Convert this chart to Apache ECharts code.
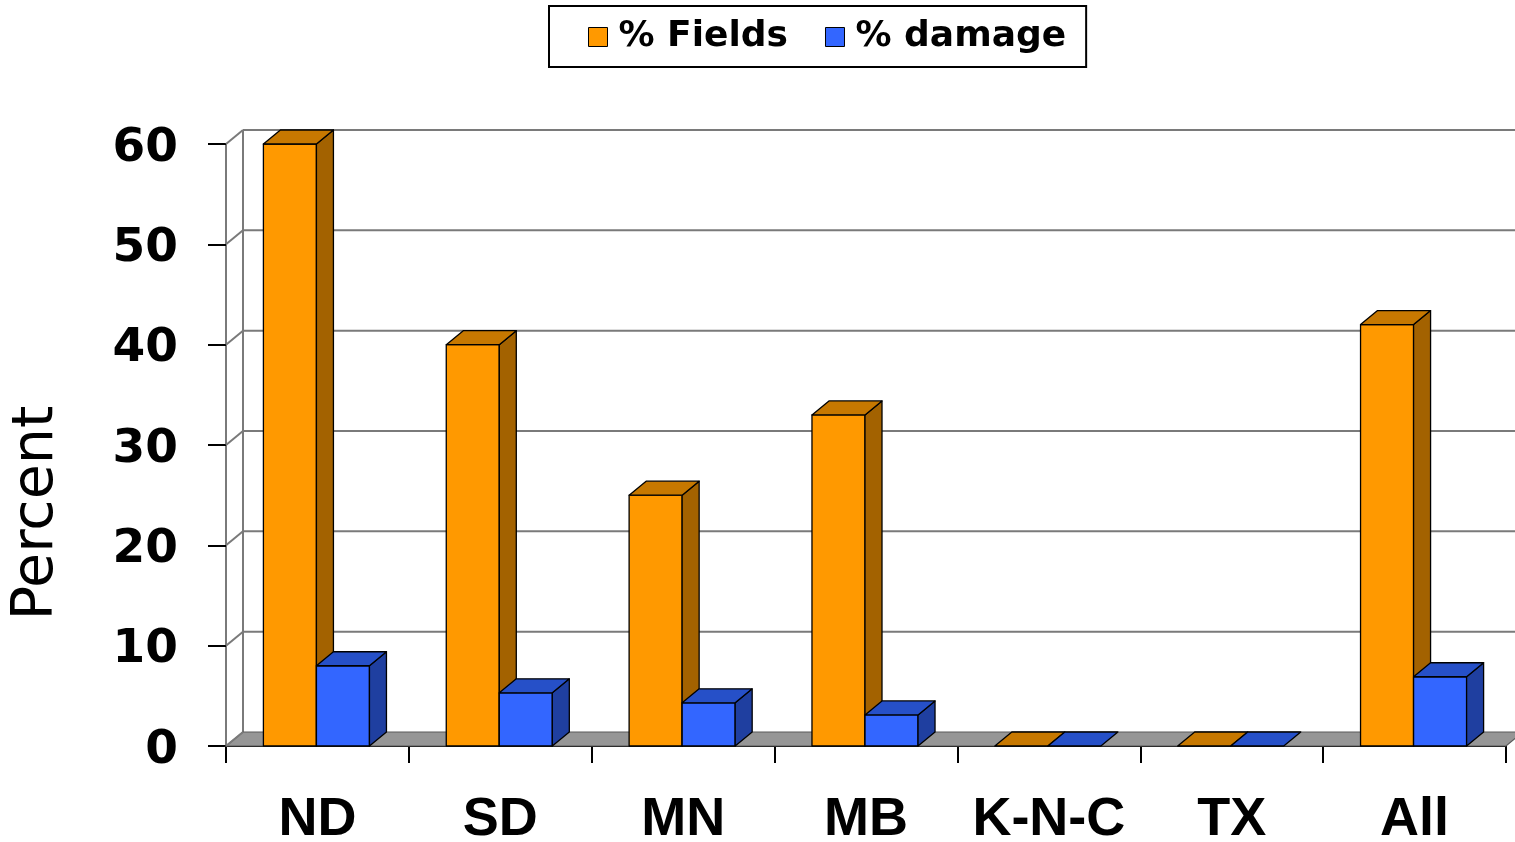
<!DOCTYPE html>
<html>
<head>
<meta charset="utf-8">
<script src="https://cdn.jsdelivr.net/npm/echarts@6/dist/echarts.min.js"></script>
<style>html,body{margin:0;padding:0;background:#fff;}#c{width:1515px;height:842px;}</style>
</head>
<body>
<div id="c"></div>
<script>
var categories = ['ND', 'SD', 'MN', 'MB', 'K-N-C', 'TX', 'All'];
var fieldsPct = [60, 40, 25, 33, 0, 0, 42];
var damagePct = [8, 5.3, 4.3, 3.1, 0, 0, 6.9];
var yTicks = [0, 10, 20, 30, 40, 50, 60];

var DX = 17, DY = -14, BAR_FRAC = 0.29;
var colors = {
  fields: {front: '#FF9900', top: '#C77800', side: '#A36200'},
  damage: {front: '#3366FF', top: '#2650C8', side: '#1F3FA0'}
};

function barRender(idx, col) {
  return function (params, api) {
    var c = api.value(0), v = api.value(1);
    var base = api.coord([c, 0]);
    var top = api.coord([c, v]);
    var bw = api.size([1, 0])[0];
    var w = bw * BAR_FRAC;
    var x0 = base[0] - w - 1 + idx * w, x1 = x0 + w;
    var yb = base[1], yt = top[1];
    var st = {stroke: '#000', lineWidth: 1.3, lineJoin: 'round'};
    var kids = [];
    if (yb - yt > 0.5) {
      kids.push({type: 'polygon', shape: {points: [[x0, yb], [x1, yb], [x1, yt], [x0, yt]]},
        style: Object.assign({fill: col.front}, st)});
      kids.push({type: 'polygon', shape: {points: [[x1, yt], [x1 + DX, yt + DY], [x1 + DX, yb + DY], [x1, yb]]},
        style: Object.assign({fill: col.side}, st)});
    }
    kids.push({type: 'polygon', shape: {points: [[x0, yt], [x1, yt], [x1 + DX, yt + DY], [x0 + DX, yt + DY]]},
      style: Object.assign({fill: col.top}, st)});
    return {type: 'group', children: kids};
  };
}

function wallRender(params, api) {
  var cs = params.coordSys;
  var v = api.value(1);
  var y = api.coord([0, v])[1];
  var xl = cs.x, xr = cs.x + cs.width;
  var kids = [];
  var gl = {stroke: '#7a7a7a', lineWidth: 2};
  if (params.dataIndex === 0) {
    var yb = y;
    kids.push({type: 'line', shape: {x1: xl + DX, y1: cs.y + DY, x2: xl + DX, y2: yb + DY}, style: gl});
    kids.push({type: 'polygon', shape: {points: [[xl, yb], [xr, yb], [xr + DX, yb + DY], [xl + DX, yb + DY]]},
      style: {fill: '#969696', stroke: '#5a5a5a', lineWidth: 1.2}});
  } else {
    kids.push({type: 'line', shape: {x1: xl + DX, y1: y + DY, x2: xr + DX, y2: y + DY}, style: gl});
  }
  kids.push({type: 'line', shape: {x1: xl, y1: y, x2: xl + DX, y2: y + DY}, style: gl});
  return {type: 'group', children: kids};
}

var chart = echarts.init(document.getElementById('c'), null, {renderer: 'canvas'});
chart.setOption({
  animation: false,
  backgroundColor: '#fff',
  grid: {left: 226, right: 9, top: 144, bottom: 96, containLabel: false, outerBoundsMode: 'none'},
  legend: {
    left: 549, top: 6,
    data: [
      {name: '% Fields', icon: 'rect', itemStyle: {color: colors.fields.front, borderColor: '#000', borderWidth: 1}},
      {name: '% damage', icon: 'rect', itemStyle: {color: colors.damage.front, borderColor: '#000', borderWidth: 1}}
    ],
    itemWidth: 19, itemHeight: 19, itemGap: 37,
    padding: [11, 20, 10, 39],
    borderColor: '#000', borderWidth: 2,
    textStyle: {fontFamily: 'DejaVu Sans', fontWeight: 'bold', fontSize: 36, color: '#000', lineHeight: 28, padding: [12, 0, 0, 6]}
  },
  graphic: [{
    type: 'text', x: 37, y: 513, rotation: Math.PI / 2,
    style: {text: 'Percent', fontFamily: 'DejaVu Sans', fontSize: 57, fill: '#000', align: 'center', verticalAlign: 'middle'}
  }],
  xAxis: {
    type: 'category', data: categories,
    axisLine: {show: true, lineStyle: {color: '#000', width: 2}},
    axisTick: {show: true, interval: 0, alignWithLabel: false, length: 17, lineStyle: {color: '#000', width: 2}},
    axisLabel: {interval: 0, fontFamily: 'Liberation Sans', fontWeight: 'bold', fontSize: 54, color: '#000', margin: 47}
  },
  yAxis: {
    type: 'value', min: 0, max: 60, interval: 10,
    axisLine: {show: true, lineStyle: {color: '#7a7a7a', width: 2}},
    axisTick: {show: true, length: 18, lineStyle: {color: '#000', width: 2}},
    axisLabel: {
      margin: 48,
      formatter: function (v) { return '{n|' + v + '}'; },
      rich: {n: {fontFamily: 'DejaVu Sans', fontWeight: 'bold', fontSize: 47, color: '#000', padding: [9, 0, 0, 0]}}
    },
    splitLine: {show: false}
  },
  series: [
    {type: 'custom', name: 'walls', silent: true, z: 1,
      data: yTicks.map(function (t) { return [0, t]; }), renderItem: wallRender},
    {type: 'custom', name: '% Fields', z: 3, itemStyle: {color: colors.fields.front},
      data: fieldsPct.map(function (v, i) { return [i, v]; }), renderItem: barRender(0, colors.fields)},
    {type: 'custom', name: '% damage', z: 4, itemStyle: {color: colors.damage.front},
      data: damagePct.map(function (v, i) { return [i, v]; }), renderItem: barRender(1, colors.damage)}
  ]
});
</script>
</body>
</html>
